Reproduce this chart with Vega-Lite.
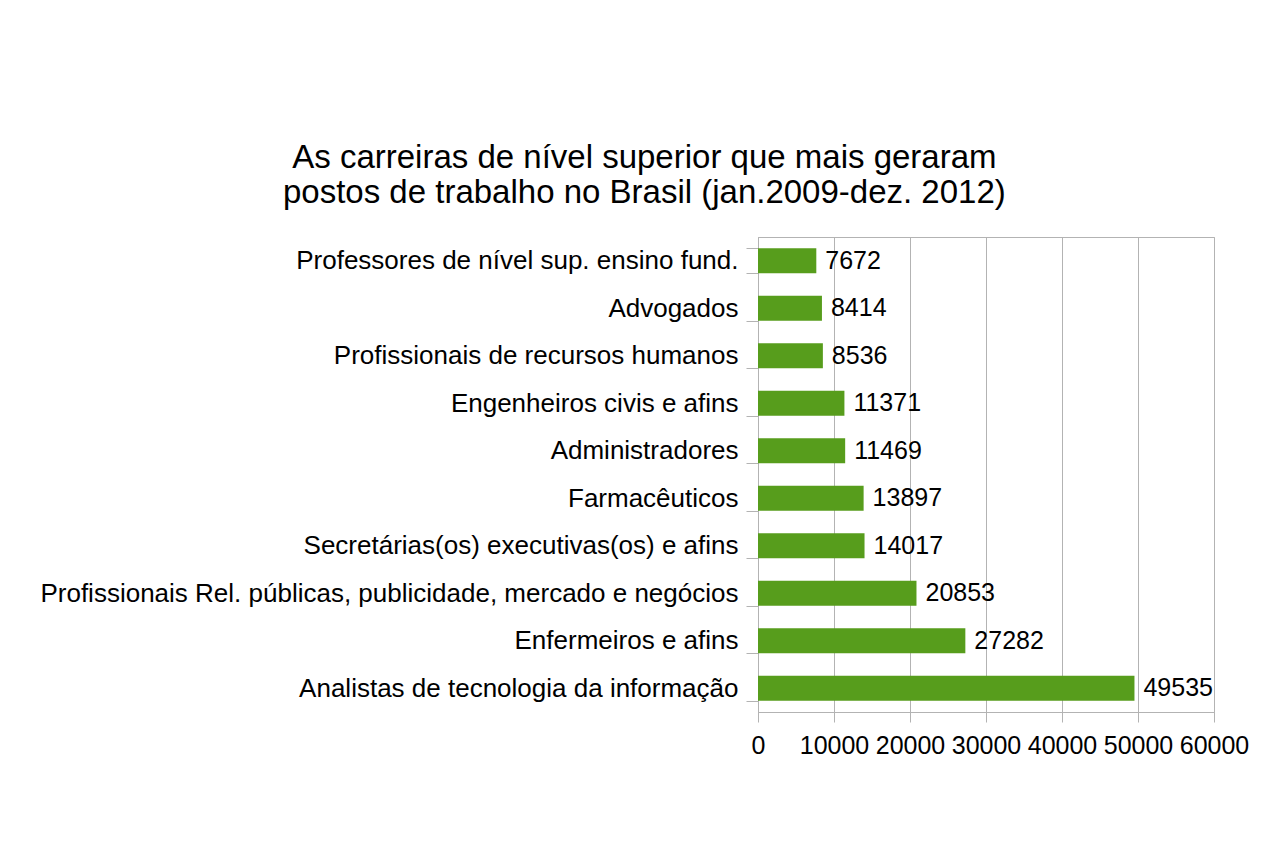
{
  "$schema": "https://vega.github.io/schema/vega-lite/v6.json",
  "autosize": {"type": "none"},
  "padding": {"left": 758, "top": 237, "right": 53, "bottom": 138},
  "width": 456,
  "height": 475,
  "background": "white",
  "title": {
    "text": ["As carreiras de nível superior que mais geraram", "postos de trabalho no Brasil (jan.2009-dez. 2012)"],
    "font": "Liberation Sans",
    "fontSize": 33,
    "fontWeight": "normal",
    "color": "black",
    "anchor": "middle",
    "frame": "bounds",
    "lineHeight": 35,
    "offset": 14
  },
  "config": {
    "view": {"stroke": "#b3b3b3", "strokeWidth": 1},
    "axis": {
      "labelFont": "Liberation Sans",
      "labelColor": "black",
      "domainColor": "#b3b3b3",
      "tickColor": "#b3b3b3",
      "gridColor": "#b3b3b3",
      "title": null
    }
  },
  "data": {
    "values": [
      {"carreira": "Professores de nível sup. ensino fund.", "postos": 7672},
      {"carreira": "Advogados", "postos": 8414},
      {"carreira": "Profissionais de recursos humanos", "postos": 8536},
      {"carreira": "Engenheiros civis e afins", "postos": 11371},
      {"carreira": "Administradores", "postos": 11469},
      {"carreira": "Farmacêuticos", "postos": 13897},
      {"carreira": "Secretárias(os) executivas(os) e afins", "postos": 14017},
      {"carreira": "Profissionais Rel. públicas, publicidade, mercado e negócios", "postos": 20853},
      {"carreira": "Enfermeiros e afins", "postos": 27282},
      {"carreira": "Analistas de tecnologia da informação", "postos": 49535}
    ]
  },
  "encoding": {
    "y": {
      "field": "carreira",
      "type": "nominal",
      "sort": {"field": "postos", "order": "ascending"},
      "scale": {"paddingInner": 0.47, "paddingOuter": 0.235},
      "axis": {
        "tickBand": "extent",
        "tickSize": 12,
        "labelPadding": 8,
        "labelFontSize": 26,
        "labelLimit": 900,
        "grid": false
      }
    },
    "x": {
      "field": "postos",
      "type": "quantitative",
      "scale": {"domain": [0, 60000], "nice": false},
      "axis": {
        "values": [0, 10000, 20000, 30000, 40000, 50000, 60000],
        "format": "d",
        "tickSize": 10,
        "labelPadding": 11,
        "labelFontSize": 25,
        "labelOverlap": false,
        "labelFlush": false,
        "grid": true,
        "domain": true
      }
    }
  },
  "layer": [
    {"mark": {"type": "bar", "color": "#579d1c"}},
    {
      "mark": {"type": "text", "align": "left", "baseline": "middle", "dx": 9, "font": "Liberation Sans", "fontSize": 25, "color": "black"},
      "encoding": {"text": {"field": "postos", "type": "quantitative", "format": "d"}}
    }
  ]
}
